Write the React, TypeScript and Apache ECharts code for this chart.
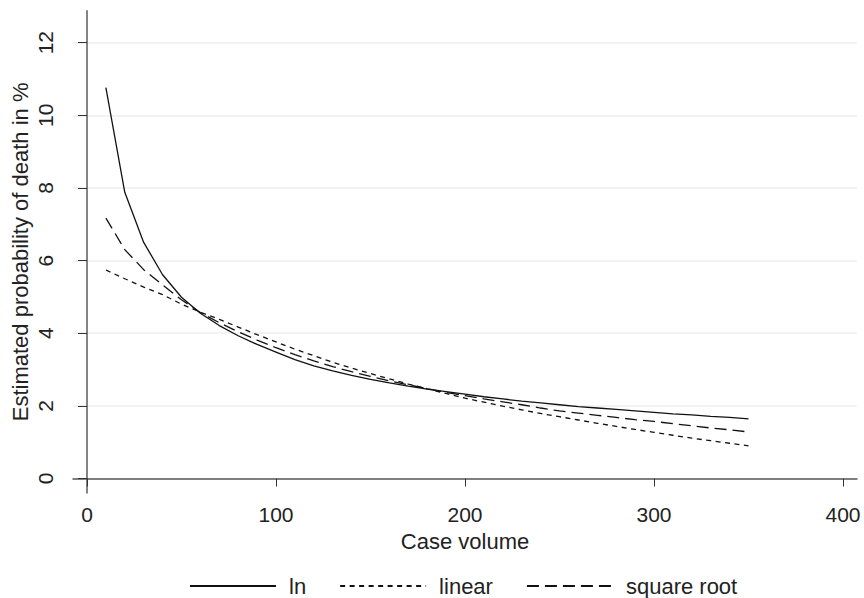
import React, { useEffect, useRef } from "react";
import * as echarts from "echarts";

const caseVolume = [10, 20, 30, 40, 50, 60, 70, 80, 90, 100, 110, 120, 130, 140, 150, 160, 170, 180, 190, 200, 210, 220, 230, 240, 250, 260, 270, 280, 290, 300, 310, 320, 330, 340, 350];

const lnValues = [10.76, 7.88, 6.5, 5.61, 4.99, 4.55, 4.21, 3.93, 3.69, 3.48, 3.27, 3.1, 2.96, 2.84, 2.73, 2.63, 2.54, 2.46, 2.39, 2.32, 2.25, 2.19, 2.13, 2.08, 2.03, 1.98, 1.94, 1.9, 1.86, 1.82, 1.78, 1.75, 1.71, 1.68, 1.64];

const linearValues = [5.74, 5.5, 5.27, 5.06, 4.8, 4.58, 4.38, 4.17, 3.96, 3.76, 3.56, 3.38, 3.2, 3.04, 2.89, 2.74, 2.6, 2.47, 2.34, 2.21, 2.1, 1.99, 1.89, 1.79, 1.7, 1.61, 1.52, 1.435, 1.35, 1.27, 1.19, 1.11, 1.04, 0.97, 0.9];

const sqrtValues = [7.17, 6.3, 5.75, 5.33, 4.92, 4.57, 4.29, 4.04, 3.81, 3.6, 3.41, 3.24, 3.08, 2.94, 2.81, 2.69, 2.58, 2.47, 2.37, 2.28, 2.19, 2.11, 2.03, 1.94, 1.86, 1.8, 1.74, 1.68, 1.62, 1.57, 1.51, 1.45, 1.39, 1.34, 1.28];

const xTicks = [0, 100, 200, 300, 400];
const yTicks = [0, 2, 4, 6, 8, 10, 12];

const seriesNames = ["ln", "linear", "square root"];

const FONT = "'Liberation Sans', Arial, Helvetica, sans-serif";
const TEXT = "#222222";

export default function App() {
  const ref = useRef<HTMLDivElement>(null);

  useEffect(() => {
    document.body.style.margin = "0";
    const chart = echarts.init(ref.current!, null, { renderer: "svg" });
    const pairs = (vals: number[]) => caseVolume.map((x, i) => [x, vals[i]]);

    const lineBase = {
      type: "line" as const,
      showSymbol: false,
      symbol: "none",
      smooth: false,
    };

    chart.setOption({
      animation: false,
      backgroundColor: "#ffffff",
      textStyle: { fontFamily: FONT },
      grid: { left: 73, right: 7, top: 10.7, bottom: 105, containLabel: false },
      xAxis: {
        type: "value",
        min: -7.4,
        max: 407.4,
        name: "Case volume",
        nameLocation: "middle",
        nameGap: 37,
        nameTextStyle: { fontSize: 22, color: TEXT, fontFamily: FONT },
        axisLine: { show: true, lineStyle: { color: "#5a5a5a", width: 1.5 } },
        axisTick: { show: true, length: 8, customValues: xTicks, lineStyle: { color: "#333", width: 1 } },
        axisLabel: { customValues: xTicks, fontSize: 21, color: TEXT, margin: 11, fontFamily: FONT },
        splitLine: { show: false },
      },
      yAxis: {
        type: "value",
        min: -0.4,
        max: 12.88,
        name: "Estimated probability of death in %",
        nameLocation: "middle",
        nameRotate: 90,
        nameGap: 42,
        nameTextStyle: { fontSize: 22, color: TEXT, fontFamily: FONT },
        axisLine: { show: true, lineStyle: { color: "#5a5a5a", width: 1.5 } },
        axisTick: { show: true, length: 9, customValues: yTicks, lineStyle: { color: "#333", width: 1 } },
        axisLabel: { show: false, customValues: yTicks },
        splitLine: { show: true, lineStyle: { color: "#efefef", width: 1.5 } },
      },
      legend: {
        left: 189,
        top: 575,
        padding: 0,
        itemWidth: 86,
        itemHeight: 14,
        itemGap: 33,
        itemStyle: { opacity: 0, borderWidth: 0 },
        textStyle: { fontSize: 22, color: TEXT, fontFamily: FONT, padding: [0, 0, 0, 8] },
        data: seriesNames,
      },
      series: [
        {
          ...lineBase,
          name: seriesNames[0],
          data: pairs(lnValues),
          lineStyle: { color: "#111", width: 1.3, type: "solid" },
          itemStyle: { color: "#111" },
        },
        {
          ...lineBase,
          name: seriesNames[1],
          data: pairs(linearValues),
          lineStyle: { color: "#111", width: 1.3, type: [5, 4.5] },
          itemStyle: { color: "#111" },
        },
        {
          ...lineBase,
          name: seriesNames[2],
          data: pairs(sqrtValues),
          lineStyle: { color: "#111", width: 1.3, type: [12, 6] },
          itemStyle: { color: "#111" },
        },
      ],
    });

    const yLabelElems = yTicks.map((v) => {
      const py = chart.convertToPixel({ yAxisIndex: 0 }, v) as number;
      return {
        type: "text",
        x: 45,
        y: py,
        rotation: Math.PI / 2,
        style: {
          text: String(v),
          fontSize: 21,
          fontFamily: FONT,
          fill: TEXT,
          align: "center",
          verticalAlign: "middle",
        },
      };
    });
    chart.setOption({ graphic: { elements: yLabelElems } });

    return () => chart.dispose();
  }, []);

  return <div ref={ref} style={{ width: 864, height: 598 }} />;
}
